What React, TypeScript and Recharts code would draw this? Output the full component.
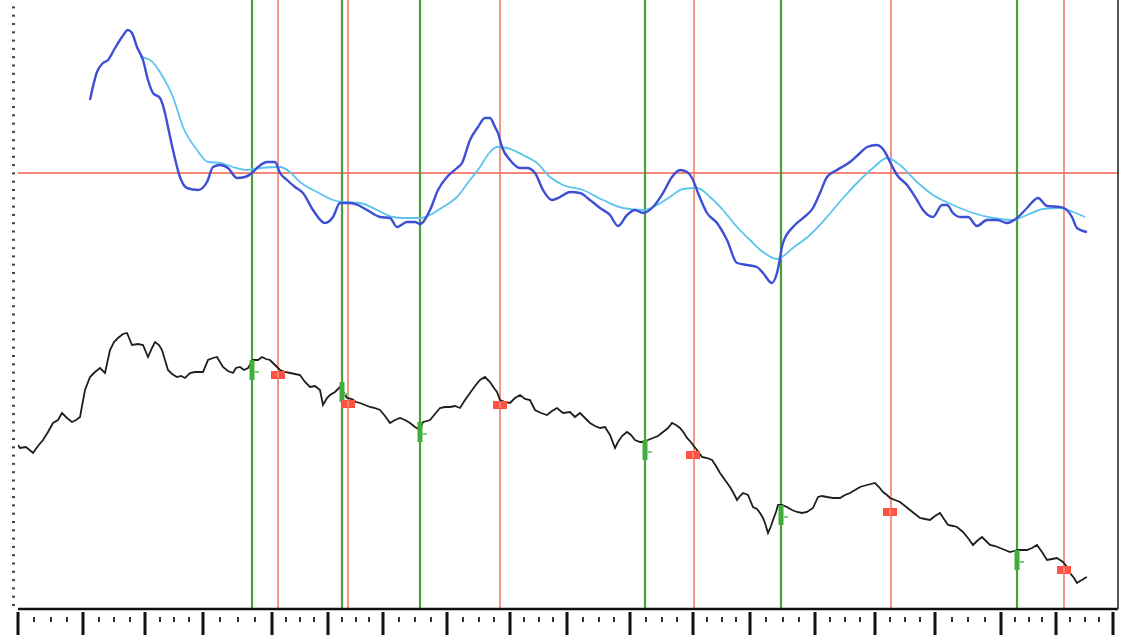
import React from "react";
import { ComposedChart, Line, XAxis, YAxis, ReferenceLine, Scatter } from "recharts";

// [bar, value] readings
const pricePts: number[][] = [
  [0,164],[2,161],[8,162],[15,156],[20,163],[25,169],[30,177],[35,186],[40,189],[44,196],[49,191],[54,187],[58,189],[62,192],
  [67,219],[72,232],[77,237],[82,241],[87,236],[92,259],[96,267],[100,271],[105,275],[109,276],[114,264],[120,265],[125,264],
  [130,252],[134,261],[137,267],[141,264],[144,259],[150,239],[154,235],[159,232],[163,233],[167,231],[172,236],[177,237],
  [185,237],[190,249],[195,251],[199,252],[202,247],[205,242],[210,238],[215,236],[218,241],[222,242],[226,239],[230,241],
  [235,249],[240,249],[244,252],[248,250],[252,249],[257,244],[262,239],[267,237],[272,236],[277,235],[282,234],[287,227],
  [292,222],[297,223],[302,219],[305,204],[309,211],[312,214],[317,217],[322,222],[326,216],[329,211],[334,210],[338,207],
  [342,206],[347,204],[352,202],[357,201],[362,199],[367,193],[372,186],[377,189],[382,191],[387,189],[392,186],[397,182],
  [402,179],[405,187],[409,188],[412,189],[417,195],[422,201],[427,202],[432,202],[437,203],[442,201],[447,209],[452,216],
  [457,223],[462,229],[467,232],[472,227],[476,221],[479,217],[482,209],[487,207],[492,206],[497,211],[502,214],[507,210],
  [512,209],[517,199],[523,196],[529,194],[534,198],[539,201],[545,196],[552,197],[557,192],[562,196],[567,191],[572,186],
  [577,183],[582,181],[587,182],[592,174],[597,161],[600,167],[604,173],[609,177],[613,174],[617,169],[622,167],[625,167],
  [630,169],[635,171],[640,173],[645,177],[650,181],[654,186],[658,184],[662,181],[666,176],[669,171],[672,168],[675,164],
  [679,159],[684,152],[689,151],[694,149],[698,143],[702,136],[707,129],[712,122],[716,115],[719,109],[722,113],[725,116],
  [730,114],[735,102],[739,100],[742,96],[745,91],[747,86],[750,76],[753,83],[755,89],[758,97],[760,104],[764,104],[769,102],
  [774,99],[779,97],[784,96],[789,97],[795,101],[800,112],[804,113],[809,112],[815,111],[822,111],[827,114],[832,116],
  [837,119],[842,122],[849,124],[853,125],[857,126],[861,122],[865,117],[869,114],[872,111],[877,109],[882,107],[887,103],
  [892,99],[897,95],[902,91],[907,90],[912,89],[917,93],[922,96],[926,90],[930,84],[935,83],[939,82],[945,77],[950,71],
  [955,64],[959,68],[964,72],[968,68],[972,64],[977,63],[982,61],[987,59],[992,57],[996,58],[1000,59],[1004,59],[1009,59],
  [1014,61],[1019,64],[1024,57],[1029,49],[1034,50],[1039,51],[1042,49],[1045,47],[1049,42],[1052,36],[1056,31],[1059,26],
  [1062,28],[1064,29],[1067,31],[1069,32],
];

const fastPts: number[][] = [
  [72,509],[79,537],[85,546],[90,549],[97,561],[104,572],[110,579],[114,576],[119,562],[125,549],[130,529],[135,516],
  [142,511],[147,496],[150,482],[155,459],[162,432],[169,421],[180,419],[189,427],[195,442],[202,444],[210,441],[219,431],
  [227,432],[234,436],[240,442],[249,447],[257,447],[262,436],[269,429],[277,422],[285,416],[295,399],[307,386],[315,392],
  [322,406],[332,406],[340,404],[349,399],[362,392],[372,391],[379,382],[389,387],[397,387],[402,385],[412,399],[420,419],
  [429,432],[439,441],[444,446],[452,469],[460,482],[467,491],[472,491],[477,482],[480,476],[484,462],[492,449],[502,441],
  [509,441],[517,436],[525,419],[534,409],[542,412],[552,417],[562,416],[572,409],[582,401],[592,394],[600,383],[609,394],
  [617,399],[625,396],[635,402],[645,416],[654,432],[662,439],[669,437],[675,429],[680,416],[689,396],[699,386],[709,369],
  [719,346],[729,344],[739,342],[745,336],[754,326],[759,336],[765,366],[775,382],[785,391],[795,401],[802,416],[809,432],
  [819,439],[832,447],[842,456],[849,462],[859,464],[867,457],[872,447],[879,434],[889,424],[899,409],[905,399],[915,392],
  [924,404],[929,404],[935,396],[942,392],[950,392],[959,383],[969,389],[979,389],[989,386],[999,391],[1009,401],[1020,411],
  [1029,403],[1042,402],[1046,401],[1054,392],[1059,381],[1069,377],
];

const slowPts: number[][] = [
  [122,552],[132,549],[145,532],[155,512],[165,482],[179,459],[190,447],[202,446],[215,442],[229,439],[242,441],[262,442],
  [272,437],[282,427],[299,417],[315,409],[325,407],[342,406],[359,399],[375,392],[385,391],[402,391],[412,394],[425,402],
  [439,412],[452,429],[462,442],[472,457],[479,462],[489,461],[505,454],[519,446],[532,432],[545,424],[565,419],[585,409],
  [605,401],[625,399],[639,404],[652,412],[665,420],[679,421],[692,412],[705,399],[719,382],[732,369],[745,357],[759,350],
  [764,352],[775,361],[792,374],[809,392],[825,411],[842,429],[855,441],[869,451],[882,444],[899,427],[915,414],[935,404],
  [955,396],[975,391],[995,389],[1009,394],[1025,400],[1042,401],[1055,397],[1067,392],
];

const buyBars = [234, 324, 402, 627, 763, 999];
const sellBars = [260, 330, 482, 676, 873, 1046];
const buyMarks: number[][] = [[234,239],[324,217],[402,177],[627,159],[763,94],[999,49]];
const sellMarks: number[][] = [[260,234],[330,205],[482,204],[675,154],[872,97],[1046,39]];
const zeroLevel = 436;
const majorTicks = [0, 65, 127, 185, 254, 310, 365, 429, 492, 549, 612, 675, 732, 797, 857, 917, 983, 1038, 1095];

const toRows = (pts: number[][]) => pts.map(([x, v]) => ({ x, v }));
const priceData = toRows(pricePts);
const fastData = toRows(fastPts);
const slowData = toRows(slowPts);
const buyData = toRows(buyMarks);
const sellData = toRows(sellMarks);

const minorTicks: number[] = [];
for (let i = 0; i < majorTicks.length - 1; i++) {
  const a = majorTicks[i], b = majorTicks[i + 1];
  for (let k = 1; k < 4; k++) minorTicks.push(Math.round(a + ((b - a) * k) / 4));
}
const majorSet = new Set(majorTicks);
const xTicks = [...majorTicks, ...minorTicks].sort((a, b) => a - b);
const yTicks: number[] = [];
for (let v = 4; v <= 605; v += 8.3) yTicks.push(v);

const XTick = (props: any) => {
  const { x, y, payload } = props;
  if (majorSet.has(payload.value)) {
    return <rect x={x - 1.5} y={y + 3} width={3} height={23} fill="#111" />;
  }
  return <rect x={x - 1} y={y + 8} width={2} height={5} fill="#333" />;
};

const YTick = (props: any) => {
  const { x, y } = props;
  return <rect x={x - 6} y={y - 1} width={3} height={2} fill="#444" />;
};

const BuyShape = (props: any) => {
  const { cx, cy } = props;
  return (
    <g>
      <rect x={cx - 2.5} y={cy - 10} width={5} height={20} fill="#3fae3a" />
      <rect x={cx + 2} y={cy + 1} width={5} height={2} fill="#7fd07a" />
    </g>
  );
};

const SellShape = (props: any) => {
  const { cx, cy } = props;
  return (
    <g>
      <rect x={cx - 7} y={cy - 4} width={14} height={8} fill="#ff5242" />
      <rect x={cx - 0.5} y={cy - 3} width={1} height={6} fill="#ffb0a8" />
    </g>
  );
};

export default function App() {
  return (
    <div style={{ width: 1123, height: 635, background: "#fff" }}>
      <style>{"body{margin:0}"}</style>
      <ComposedChart width={1123} height={635} margin={{ top: 0, right: 0, bottom: 0, left: 0 }}>
        <XAxis
          type="number"
          dataKey="x"
          domain={[0, 1100]}
          allowDataOverflow
          ticks={xTicks}
          interval={0}
          tick={<XTick />}
          tickLine={false}
          tickSize={0}
          tickMargin={0}
          height={26}
          axisLine={{ stroke: "#111", strokeWidth: 2.5 }}
        />
        <YAxis
          yAxisId="l"
          type="number"
          dataKey="v"
          domain={[0, 609]}
          allowDataOverflow
          ticks={yTicks}
          interval={0}
          tick={<YTick />}
          tickLine={false}
          tickSize={0}
          tickMargin={0}
          width={18}
          axisLine={false}
        />
        <YAxis
          yAxisId="r"
          orientation="right"
          domain={[0, 609]}
          tick={false}
          tickLine={false}
          width={5}
          axisLine={{ stroke: "#555", strokeWidth: 2 }}
        />
        <ReferenceLine yAxisId="l" y={zeroLevel} stroke="#f2604e" strokeWidth={1.5} />
        {buyBars.map((b) => (
          <ReferenceLine key={"g" + b} yAxisId="l" x={b} stroke="#4e9e3c" strokeWidth={2.2} />
        ))}
        {sellBars.map((s) => (
          <ReferenceLine key={"r" + s} yAxisId="l" x={s} stroke="#f26a5a" strokeWidth={1.4} />
        ))}
        <Line yAxisId="l" data={slowData} dataKey="v" type="monotone" stroke="#5cc4ee" strokeWidth={1.8} dot={false} isAnimationActive={false} />
        <Line yAxisId="l" data={fastData} dataKey="v" type="monotone" stroke="#3d4fd4" strokeWidth={2.4} dot={false} isAnimationActive={false} />
        <Line yAxisId="l" data={priceData} dataKey="v" type="linear" stroke="#1e1e1e" strokeWidth={1.8} dot={false} isAnimationActive={false} />
        <Scatter yAxisId="l" data={buyData} dataKey="v" shape={<BuyShape />} isAnimationActive={false} />
        <Scatter yAxisId="l" data={sellData} dataKey="v" shape={<SellShape />} isAnimationActive={false} />
      </ComposedChart>
    </div>
  );
}
